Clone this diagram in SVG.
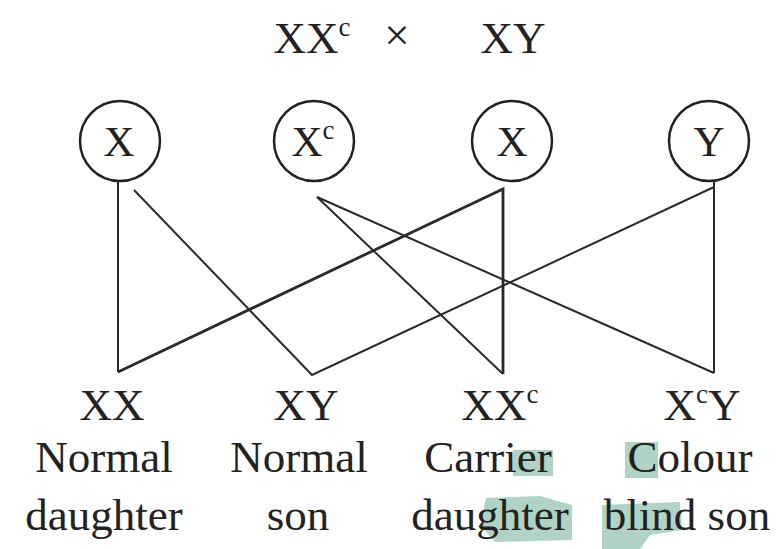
<svg xmlns="http://www.w3.org/2000/svg" width="776" height="549" viewBox="0 0 776 549">
<style>
.t,.g,.l{font-family:"Liberation Serif",serif;fill:#222;text-anchor:middle}
.t{font-size:45px}
.g{font-size:43px}
.l{font-size:45px}
.sup{font-size:27px}
circle{fill:none;stroke:#222;stroke-width:2.5}
line,polyline{stroke:#2a2a2a;stroke-width:2;fill:none}
.mark{fill:#6fae98;opacity:0.55}
</style>
<rect width="776" height="549" fill="#fff"/>
<g id="marks">
<rect class="mark" x="513" y="450" width="40" height="26"/>
<rect class="mark" x="625" y="442" width="33" height="36"/>
<polygon class="mark" points="486,498 540,496 572,505 572,540 495,542 480,525"/>
<polygon class="mark" points="602,505 680,502 682,530 650,535 640,549 602,549"/>
</g>
<g id="title">
<text class="t" x="312" y="53">XX<tspan class="sup" dy="-17">c</tspan></text>
<text class="t" x="397" y="50">×</text>
<text class="t" x="513" y="53">XY</text>
</g>
<g id="gamete-x1"><circle cx="120" cy="141" r="40"/><text class="g" x="119" y="156">X</text></g>
<g id="gamete-xc"><circle cx="314" cy="141" r="40"/><text class="g" x="313" y="156">X<tspan class="sup" dy="-17">c</tspan></text></g>
<g id="gamete-x2"><circle cx="512" cy="141" r="40"/><text class="g" x="512" y="156">X</text></g>
<g id="gamete-y"><circle cx="709" cy="141" r="40"/><text class="g" x="709" y="156">Y</text></g>
<g id="connectors">
<line x1="118" y1="181" x2="118" y2="372"/>
<polyline points="134,190 312,375 714,187"/>
<polyline points="118,372 503,189 503,374" style="stroke-width:2.8"/>
<polyline points="503,374 317,197 714,373"/>
<line x1="714" y1="181" x2="714" y2="373"/>
</g>
<g id="child-xx">
<text class="l" x="112" y="420">XX</text>
<text class="l" x="104" y="472">Normal</text>
<text class="l" x="104" y="530">daughter</text>
</g>
<g id="child-xy">
<text class="l" x="306" y="420">XY</text>
<text class="l" x="299" y="472">Normal</text>
<text class="l" x="298" y="530">son</text>
</g>
<g id="child-xxc">
<text class="l" x="500" y="420">XX<tspan class="sup" dy="-17">c</tspan></text>
<text class="l" x="488" y="472">Carrier</text>
<text class="l" x="490" y="530">daughter</text>
</g>
<g id="child-xcy">
<text class="l" x="702" y="420">X<tspan class="sup" dy="-17">c</tspan><tspan dy="17">Y</tspan></text>
<text class="l" x="690" y="472">Colour</text>
<text class="l" x="687" y="530">blind son</text>
</g>
</svg>
